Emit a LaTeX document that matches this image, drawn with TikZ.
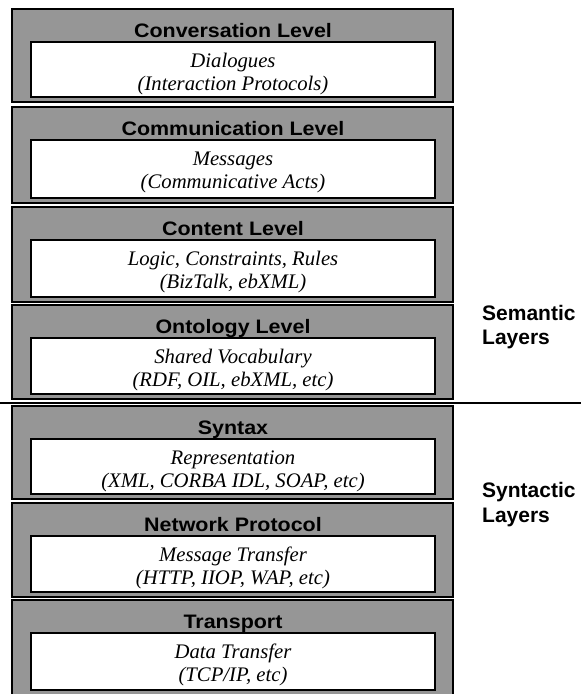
\documentclass[tikz,border=0pt]{standalone}
\usepackage{fontspec}
\setmainfont{Liberation Serif}
\newfontfamily\headfont{Liberation Sans}[FakeStretch=1.1]
\newfontfamily\sidefont{Liberation Sans}
\usetikzlibrary{fit}
\definecolor{layergray}{RGB}{150,150,150}

% one protocol layer: name, top, bottom, title, first line, second line
\newcommand\protolayer[6]{%
  \node[outerbox, fit={(12,#2) (453,#3)}] (#1) {};
  \node[innerbox, fit={(31,{#2+33}) (435,{#3-5})}] (#1-in) {};
  \node[titletext] (#1-title) at (233,{#2+28}) {#4};
  \node[bodytext] (#1-a) at (233,{#2+58}) {#5};
  \node[bodytext] (#1-b) at (233,{#2+81}) {#6};
}

\begin{document}
\begin{tikzpicture}[x=1pt,y=-1pt,
  outerbox/.style={draw=black, line width=1.7pt, fill=layergray, inner sep=0pt},
  innerbox/.style={draw=black, line width=1.5pt, fill=white, inner sep=0pt},
  titletext/.style={anchor=base, inner sep=0pt, font=\headfont\bfseries\fontsize{19.5}{19.5}\selectfont},
  bodytext/.style={anchor=base, inner sep=0pt, font=\itshape\fontsize{20.7}{20.7}\selectfont},
  sidetext/.style={anchor=base west, inner sep=0pt, font=\sidefont\bfseries\fontsize{21}{21}\selectfont}]
\useasboundingbox (0,0) rectangle (581,694);

% divider between the semantic and the syntactic layers
\coordinate (divL) at (0,403);
\coordinate (divR) at (581,403);
\draw[line width=1.3pt] (divL) -- (divR);

\protolayer{conv}{9}{102}{Conversation Level}{Dialogues}{(Interaction Protocols)}
\protolayer{comm}{107}{203}{Communication Level}{Messages}{(Communicative Acts)}
\protolayer{cont}{207}{302}{Content Level}{Logic, Constraints, Rules}{(BizTalk, ebXML)}
\protolayer{onto}{305}{399}{Ontology Level}{Shared Vocabulary}{(RDF, OIL, ebXML, etc)}
\protolayer{synt}{406}{499}{Syntax}{Representation}{(XML, CORBA IDL, SOAP, etc)}
\protolayer{netw}{503}{597}{Network Protocol}{Message Transfer}{(HTTP, IIOP, WAP, etc)}
\protolayer{tran}{600}{695}{Transport}{Data Transfer}{(TCP/IP, etc)}

\node[sidetext] (sem1) at (482,320) {Semantic};
\node[sidetext] (sem2) at (482,344) {Layers};
\node[sidetext] (syn1) at (482,497) {Syntactic};
\node[sidetext] (syn2) at (482,522) {Layers};
\end{tikzpicture}
\end{document}
